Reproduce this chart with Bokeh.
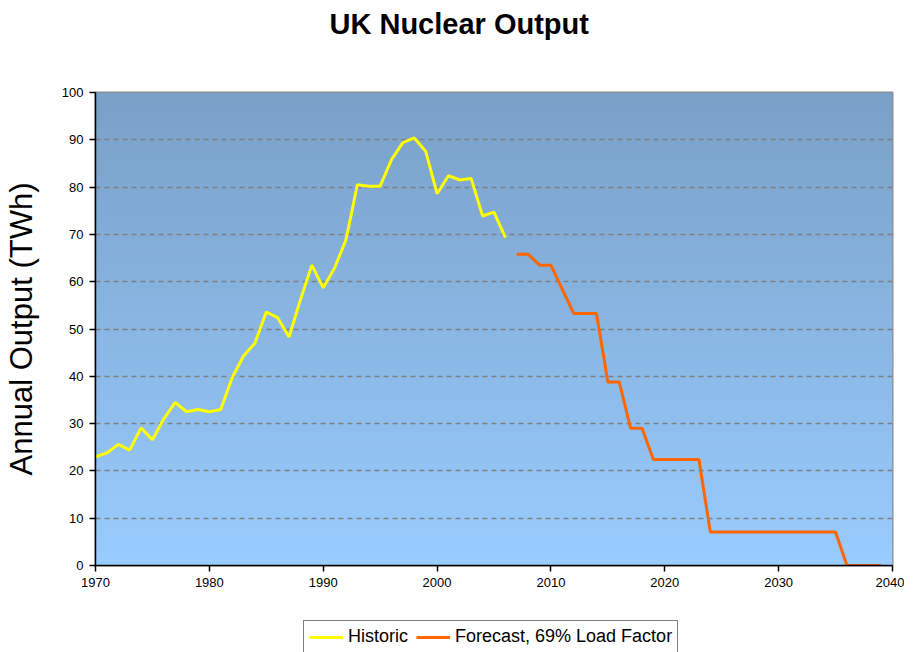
import numpy as np
from bokeh.plotting import figure
from bokeh.layouts import column
from bokeh.models import Range1d, FixedTicker, Legend, LegendItem, Title
from bokeh.embed import file_html
from bokeh.resources import INLINE

# ---- data ----
hist_years = list(range(1970, 2007))
hist_values = [23.0, 23.8, 25.6, 24.4, 29.1, 26.6, 31.0, 34.5, 32.5, 33.0,
               32.5, 33.0, 39.7, 44.3, 47.0, 53.6, 52.4, 48.3, 56.2, 63.5,
               58.7, 62.9, 68.9, 80.5, 80.2, 80.2, 85.8, 89.4, 90.4, 87.6,
               78.6, 82.4, 81.5, 81.8, 73.9, 74.7, 69.3]
fc_years = list(range(2007, 2040))
fc_values = [65.8, 65.8, 63.5, 63.5, 58.4, 53.3, 53.3, 53.3, 38.8, 38.8,
             29.0, 29.0, 22.4, 22.4, 22.4, 22.4, 22.4,
             7.1, 7.1, 7.1, 7.1, 7.1, 7.1, 7.1, 7.1, 7.1, 7.1, 7.1, 7.1,
             0.0, 0.0, 0.0, 0.0]
x_ticks = [1970, 1980, 1990, 2000, 2010, 2020, 2030, 2040]
y_ticks = [0, 10, 20, 30, 40, 50, 60, 70, 80, 90, 100]
hist_label = "Historic"
fc_label = "Forecast, 69% Load Factor"
title_text = "UK Nuclear Output"
y_label = "Annual Output (TWh)"

FONT = "Liberation Sans"
HIST_COLOR = "#FFFF00"
FC_COLOR = "#FF6600"

p = figure(frame_width=797, frame_height=473, output_backend="svg", toolbar_location=None,
           x_range=Range1d(1970, 2040), y_range=Range1d(0, 100),
           min_border_left=91, min_border_right=12, min_border_top=0, min_border_bottom=0)
p.background_fill_color = "white"
p.border_fill_color = "white"

# gradient background (bottom light blue -> top darker blue)
n = 256
bot = np.array([153, 204, 255], dtype=float)
top = np.array([121, 160, 199], dtype=float)
img = np.empty((n, 1), dtype=np.uint32)
view = img.view(dtype=np.uint8).reshape((n, 1, 4))
for i in range(n):
    t = i / (n - 1)
    c = bot * (1 - t) + top * t
    view[i, 0, 0] = int(round(c[0]))
    view[i, 0, 1] = int(round(c[1]))
    view[i, 0, 2] = int(round(c[2]))
    view[i, 0, 3] = 255
bg = p.image_rgba(image=[img], x=1970, y=0, dw=70, dh=100)
bg.level = "image"

p.line(hist_years, hist_values, line_color=HIST_COLOR, line_width=3)
p.line(fc_years, fc_values, line_color=FC_COLOR, line_width=3)

# spacer (nearest the frame), then the main title above it
p.add_layout(Title(text="\u00a0", text_font=FONT, text_font_size="32px"), "above")
p.add_layout(Title(text=title_text, text_font=FONT, text_font_size="29px",
                   text_font_style="bold", align="left", offset=234,
                   text_color="black"), "above")

# axes
p.outline_line_color = "#8c8c8c"
p.outline_line_width = 2

p.xaxis.ticker = FixedTicker(ticks=x_ticks)
p.yaxis.ticker = FixedTicker(ticks=y_ticks)
for ax in (p.xaxis[0], p.yaxis[0]):
    ax.axis_line_color = "black"
    ax.axis_line_width = 1.5
    ax.major_tick_line_color = "black"
    ax.major_tick_line_width = 1.5
    ax.major_tick_in = 0
    ax.major_tick_out = 6
    ax.minor_tick_line_color = None
    ax.major_label_text_font = FONT
    ax.major_label_text_font_size = "13px"
    ax.major_label_text_color = "black"
    ax.major_label_standoff = 6

p.yaxis.axis_label = y_label
p.yaxis.axis_label_text_font = FONT
p.yaxis.axis_label_text_font_size = "31px"
p.yaxis.axis_label_text_font_style = "normal"
p.yaxis.axis_label_text_color = "black"
p.yaxis.axis_label_standoff = 20

p.xgrid.grid_line_color = None
p.ygrid.grid_line_color = "#808080"
p.ygrid.grid_line_dash = "5 4"
p.ygrid.grid_line_width = 1.5

# ---- legend strip below the chart ----
p2 = figure(width=900, height=64, output_backend="svg", toolbar_location=None,
            x_axis_type=None, y_axis_type=None,
            x_range=Range1d(0, 1), y_range=Range1d(0, 1),
            min_border_left=0, min_border_right=0, min_border_top=0, min_border_bottom=0)
p2.outline_line_color = None
p2.grid.grid_line_color = None
p2.background_fill_color = "white"
p2.border_fill_color = "white"
# same series (outside this strip's visible range) so the legend can show their styles
l1 = p2.line(hist_years, hist_values, line_color=HIST_COLOR, line_width=3)
l2 = p2.line(fc_years, fc_values, line_color=FC_COLOR, line_width=3)

legend = Legend(items=[LegendItem(label=hist_label, renderers=[l1]),
                       LegendItem(label=fc_label, renderers=[l2])],
                orientation="horizontal", location=(208, 0))
legend.border_line_color = "black"
legend.border_line_width = 1
legend.background_fill_color = "white"
legend.background_fill_alpha = 1
legend.label_text_font = FONT
legend.label_text_font_size = "18px"
legend.label_text_color = "black"
legend.glyph_width = 34
legend.glyph_height = 16
legend.label_standoff = 5
legend.spacing = 8
legend.padding = 5
legend.margin = 0
p2.add_layout(legend, "center")

layout = column(p, p2, spacing=0)
open("out.html", "w").write(file_html(layout, INLINE))
